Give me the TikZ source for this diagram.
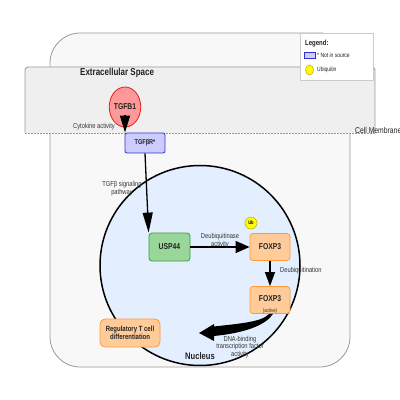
\documentclass[tikz,border=0pt]{standalone}
\usepackage{fontspec}
\setmainfont{Liberation Sans}[FakeStretch=0.8]
\usetikzlibrary{arrows.meta,calc,shapes.geometric}
\definecolor{cellfill}{HTML}{F8F8F8}
\definecolor{cellline}{HTML}{999999}
\definecolor{membfill}{HTML}{EFEFEF}
\definecolor{nucfill}{HTML}{E3EFFF}
\definecolor{redfill}{HTML}{FF9999}
\definecolor{redline}{HTML}{E02020}
\definecolor{bluefill}{HTML}{CCCCFF}
\definecolor{blueline}{HTML}{3333CC}
\definecolor{greenfill}{HTML}{99D699}
\definecolor{greenline}{HTML}{3A9A3A}
\definecolor{orfill}{HTML}{FFCC99}
\definecolor{orline}{HTML}{FF9933}
\definecolor{ubfill}{HTML}{FFFF00}
\definecolor{ubline}{HTML}{C8A800}
\definecolor{txt}{HTML}{222222}
\definecolor{labtxt}{HTML}{333333}
\tikzset{
  fnode/.style={font=\fontsize{8.5}{9}\selectfont\bfseries, text=txt, inner sep=0pt},
  tgfbsty/.style={fnode, ellipse, draw=redline, fill=redfill, line width=0.8pt, minimum width=30pt, minimum height=40pt},
  recbox/.style={fnode, draw=blueline, fill=bluefill, line width=0.8pt, rounded corners=2pt, minimum width=40pt, minimum height=20pt, font=\fontsize{7}{8}\selectfont\bfseries},
  greenbox/.style={fnode, draw=greenline, fill=greenfill, line width=0.8pt, rounded corners=3pt, minimum width=41pt, minimum height=28pt},
  orbox/.style={fnode, draw=orline, fill=orfill, line width=0.8pt, rounded corners=3pt, minimum width=40pt, minimum height=27pt},
  regbox/.style={fnode, draw=orline, fill=orfill, line width=0.8pt, rounded corners=5pt, minimum width=60pt, minimum height=28pt, align=center, font=\fontsize{7.5}{8.5}\selectfont\bfseries},
  ubsty/.style={circle, draw=ubline, fill=ubfill, line width=0.5pt, minimum size=12pt, inner sep=0pt, font=\fontsize{5}{5}\selectfont\bfseries},
  lab/.style={font=\fontsize{7.2}{7.8}\selectfont, text=labtxt, align=center, inner sep=0pt},
  arr/.style={line width=1.3pt, draw=black},
  title/.style={font=\fontsize{10}{11}\selectfont\bfseries, text=txt, inner sep=0pt},
}
\begin{document}
\begin{tikzpicture}[x=1pt,y=-1pt]
\useasboundingbox (0,0) rectangle (400,400);
% cell
\draw[fill=cellfill, draw=cellline, line width=0.8pt, rounded corners=30pt] (50,33) rectangle (350,367);
% membrane
\fill[membfill, rounded corners=3pt] (25,67) rectangle (375,133);
\draw[cellline, line width=0.8pt, rounded corners=3pt] (25,133) -- (25,67) -- (375,67) -- (375,133);
\draw[cellline, line width=0.8pt, dashed, dash pattern=on 2pt off 1pt] (25,133) -- (375,133);
\node[title, anchor=west] (ecs) at (80,73) {Extracellular Space};
\node[font=\fontsize{8.5}{9}\selectfont, text=txt, anchor=west, inner sep=0pt] (cm) at (355,130) {Cell Membrane};
% nucleus
\node[circle, draw=black, fill=nucfill, line width=1.5pt, minimum size=200pt, inner sep=0pt] (nuc) at (200,265.5) {};
\node[title, font=\fontsize{9.5}{10}\selectfont\bfseries] (nuclab) at (200,356) {Nucleus};
% nodes
\node[tgfbsty] (tgfb1) at (125,107) {TGFB1};
\node[recbox] (tgfbr) at (145,143) {TGFβR*};
\node[greenbox] (usp) at (169.5,247) {USP44};
\node[orbox] (fox) at (270,247) {FOXP3};
\node[orbox] (foxa) at (270,300) {};
\node[fnode] (foxatxt) at (270,299) {FOXP3};
\node[lab, font=\fontsize{5.5}{6}\selectfont] (act) at (270,311) {(active)};
\node[ubsty] (ub) at (251,223) {Ub};
\node[regbox] (reg) at (130,333) {Regulatory T cell\\differentiation};
% arrows
\draw[arr, -{Triangle[length=17pt,width=10pt]}] ($(tgfb1.center)+(0,8)$) -- (tgfb1.center |- tgfbr.north);
\draw[arr, -{Triangle[length=20pt,width=10pt]}] (tgfbr.south) -- (usp.north west);
\draw[arr, -{Triangle[length=14pt,width=12pt]}] (usp.east) -- (fox.west);
\draw[arr, -{Triangle[length=14pt,width=10pt]}] (fox.south) -- (foxa.north);
\coordinate (tip) at (199,333);
\fill[black] ($(foxa.south)+(-1,0)$) .. controls (262,322) and (240,323.5) .. (214,326.5) -- (214,324) -- (tip) -- (214,341) -- (214,336) .. controls (245,333) and (266,325) .. ($(foxa.south)+(3,0)$) -- cycle;
% labels
\node[lab, anchor=east] (l1) at (115,127) {Cytokine activity};
\node[lab] (l2) at (122,188.5) {TGFβ signaling\\pathway};
\node[lab] (l3) at (220,240.5) {Deubiquitinase\\activity};
\node[lab, anchor=west] (l4) at (280,271) {Deubiquitination};
\node[lab] (l5) at (240,347) {DNA-binding\\transcription factor\\activity};
% legend
\draw[fill=white, draw=black!20, line width=0.8pt] (300,33) rectangle (373,80);
\node[font=\fontsize{7.5}{8}\selectfont\bfseries, text=txt, anchor=west, inner sep=0pt] (legt) at (305,44) {Legend:};
\node[draw=blueline, fill=bluefill, line width=0.5pt, minimum width=11pt, minimum height=6pt, inner sep=0pt] (leg1) at (310,55) {};
\node[font=\fontsize{6.2}{7}\selectfont, text=txt, anchor=west, inner sep=0pt] (leg1t) at (317,55.5) {* Not in source};
\node[ellipse, draw=ubline, fill=ubfill, line width=0.5pt, minimum width=8pt, minimum height=10pt, inner sep=0pt] (leg2) at (309.5,70) {};
\node[font=\fontsize{6.2}{7}\selectfont, text=txt, anchor=west, inner sep=0pt] (leg2t) at (317,69.5) {Ubiquitin};
\end{tikzpicture}
\end{document}
